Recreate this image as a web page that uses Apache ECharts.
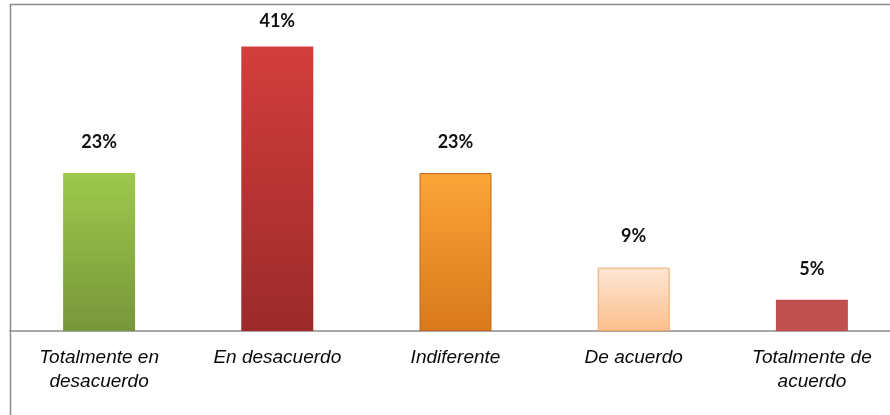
<!DOCTYPE html>
<html>
<head>
<meta charset="utf-8">
<script src="https://cdn.jsdelivr.net/npm/echarts@6/dist/echarts.min.js"></script>
<style>
    html, body { margin: 0; padding: 0; background: #fff; overflow: hidden; }
    /* el gráfico original está recortado por la derecha */
    #chart { width: 901px; height: 415px; }
</style>
</head>
<body>
<div id="chart"></div>
<script>
    // respuestas (porcentaje)
    const categories = ['Totalmente en\ndesacuerdo', 'En desacuerdo', 'Indiferente', 'De acuerdo', 'Totalmente de\nacuerdo']
    const values = [22.7, 40.9, 22.7, 9.1, 4.5]

    const grad = (top, bottom) => new echarts.graphic.LinearGradient(0, 0, 0, 1, [
        {offset: 0, color: top},
        {offset: 1, color: bottom}
    ])
    const barStyles = [
        {color: grad('#9ec94c', '#77963a')},
        {color: grad('#d23e3c', '#9c2a2a')},
        {color: grad('#fba538', '#d8791b'), borderColor: '#c4691a', borderWidth: 1},
        {color: grad('#fde6d4', '#fbbf8c'), borderColor: '#eea965', borderWidth: 1},
        {color: '#c0504d'}
    ]
    // la etiqueta del valor más alto queda más pegada a la barra
    const labelDistance = [22, 16, 22, 22, 22]

    let chart = echarts.init(document.getElementById('chart'))
    let options = {
        animation: false,
        grid: {
            left: 10,
            top: 4,
            right: 0,
            bottom: 84,
            containLabel: false
        },
        graphic: [{
            type: 'rect',
            shape: {x: 10.5, y: 4.5, width: 900, height: 430},
            style: {fill: 'none', stroke: '#8c8c8c', lineWidth: 1.5},
            silent: true
        }],
        xAxis: {
            type: 'category',
            data: categories,
            axisTick: {show: false},
            axisLine: {lineStyle: {color: '#8a8a8a', width: 1.5}},
            axisLabel: {
                interval: 0,
                margin: 15,
                color: '#0a0a0a',
                fontFamily: 'Liberation Sans',
                fontStyle: 'italic',
                fontSize: 19,
                lineHeight: 24
            }
        },
        yAxis: {
            type: 'value',
            min: 0,
            max: 47,
            show: false,
            splitLine: {show: false}
        },
        series: [{
            type: 'bar',
            barWidth: 72,
            data: values.map((v, i) => ({
                value: v,
                itemStyle: barStyles[i],
                label: {distance: labelDistance[i]}
            })),
            label: {
                show: true,
                position: 'top',
                color: '#111',
                fontFamily: 'Lato',
                fontWeight: 'bold',
                fontSize: 18,
                formatter: p => Math.round(p.value) + '%'
            }
        }]
    }
    chart.setOption(options)
</script>
</body>
</html>
